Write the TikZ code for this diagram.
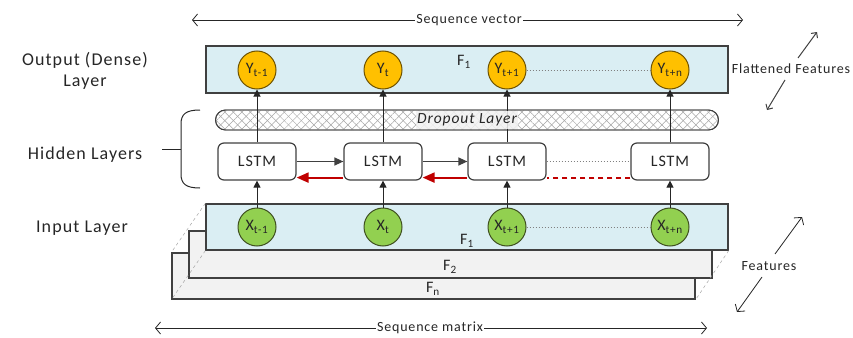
\documentclass[tikz,border=0pt]{standalone}
\usepackage{fontspec}
\setmainfont{Carlito}[LetterSpace=6]
\usetikzlibrary{arrows.meta,patterns.meta,calc}
\definecolor{LstmInk}{HTML}{262626}
\definecolor{LstmEdge}{HTML}{404040}
\definecolor{LstmBand}{HTML}{DAEEF3}
\definecolor{LstmSheet}{HTML}{F2F2F2}
\definecolor{LstmGold}{HTML}{FFC000}
\definecolor{LstmGoldEdge}{HTML}{6E5200}
\definecolor{LstmLime}{HTML}{92D050}
\definecolor{LstmLimeEdge}{HTML}{3F5020}
\definecolor{LstmRed}{HTML}{C00000}
\definecolor{LstmHatch}{HTML}{A6A6A6}
\tikzset{
  lstm label/.style={font=\fontsize{18}{21}\selectfont, text=LstmInk, align=center},
  lstm axis/.style={font=\fontsize{14}{16}\selectfont, text=LstmInk},
  lstm feat/.style={font=\fontsize{16}{18}\selectfont, text=LstmInk, inner sep=0pt},
  lstm band/.style={draw=LstmEdge, fill=LstmBand, line width=1.3pt, inner sep=0pt},
  lstm sheet/.style={draw=LstmEdge, fill=LstmSheet, line width=1.3pt, inner sep=0pt},
  lstm out/.style={circle, draw=LstmGoldEdge, fill=LstmGold, line width=1pt, minimum size=38pt, inner sep=0pt, font=\fontsize{16}{18}\selectfont, text=LstmInk},
  lstm in/.style={circle, draw=LstmLimeEdge, fill=LstmLime, line width=1pt, minimum size=38pt, inner sep=0pt, font=\fontsize{16}{18}\selectfont, text=LstmInk},
  lstm cell/.style={draw=LstmEdge, fill=white, line width=1.2pt, rounded corners=6pt, minimum width=78pt, minimum height=37pt, font=\fontsize{16}{18}\selectfont, text=LstmInk},
  lstm drop/.style={draw=LstmEdge, fill=white, line width=.9pt, rounded corners=10pt, minimum width=503pt, minimum height=20pt, inner sep=0pt,
    postaction={pattern={Lines[angle=45,distance=6pt,line width=.5pt]}, pattern color=LstmHatch},
    postaction={pattern={Lines[angle=-45,distance=6pt,line width=.5pt]}, pattern color=LstmHatch},
    postaction={draw=LstmEdge, line width=.9pt}},
  lstm up/.style={draw=LstmInk, line width=1pt, -{Triangle[length=7pt,width=7pt]}},
  lstm fwd/.style={draw=LstmEdge, line width=1.3pt, -{Triangle[length=9pt,width=8pt]}},
  lstm back/.style={draw=LstmRed, line width=2pt, -{Triangle[length=12pt,width=10pt]}},
  lstm gap/.style={draw=gray, line width=1pt, dotted},
  lstm back gap/.style={draw=LstmRed, line width=2pt, dash pattern=on 5pt off 4pt},
  lstm fold/.style={draw=gray!70, line width=.5pt, dashed},
  lstm span/.style={draw=LstmInk, line width=.8pt, -{Straight Barb[length=5pt,width=12pt]}},
  lstm tick/.style={draw=LstmEdge, line width=1pt, -{Straight Barb[length=4pt,width=8pt]}},
}
\begin{document}
\begin{tikzpicture}[x=1pt,y=-1pt]
  \useasboundingbox (0,0) rectangle (853,337);

  % Layer names on the left
  \node[lstm label] (out name) at (85,71) {Output (Dense)\\Layer};
  \node[lstm label] (hid name) at (85,155) {Hidden Layers};
  \node[lstm label] (in name) at (82,228) {Input Layer};
  \draw[draw=LstmInk, line width=1pt] (200,110) .. controls (186,110) and (181,114) .. (181,124)
    -- (181,174) .. controls (181,184) and (186,188) .. (200,188);
  \draw[draw=LstmInk, line width=1pt] (162,149) -- (181,149);

  % Sequence vector across the top
  \coordinate (vec l) at (192,20);
  \coordinate (vec r) at (743,20);
  \node[lstm axis, fill=white, inner sep=1pt] (vec text) at (469,20) {Sequence vector};
  \draw[lstm span] (vec text) -- (vec l);
  \draw[lstm span] (vec text) -- (vec r);

  % Output band with the dense outputs
  \node[lstm band, minimum width=522pt, minimum height=47pt] (outband) at (467,69.5) {};
  \node[lstm feat] (f out) at (464,62) {F\textsubscript{1}};
  \node[lstm out] (ya) at (257,70) {Y\textsubscript{t-1}};
  \node[lstm out] (yb) at (383,70) {Y\textsubscript{t}};
  \node[lstm out] (yc) at (507,70) {Y\textsubscript{t+1}};
  \node[lstm out] (yd) at (670,70) {Y\textsubscript{t+n}};
  \draw[lstm gap] (yc) -- (yd);

  \node[lstm axis] (flat) at (791,69) {Flattened Features};
  \coordinate (flat a) at (798,58);
  \coordinate (flat b) at (817,32);
  \coordinate (flat c) at (785,80);
  \coordinate (flat d) at (767,110);
  \draw[lstm tick] (flat a) -- (flat b);
  \draw[lstm tick] (flat c) -- (flat d);

  % Input stack: F1 in front, F2 and Fn behind
  \node[lstm sheet, minimum width=523pt, minimum height=46pt] (bandn) at (433.5,276) {};
  \node[lstm sheet, minimum width=523pt, minimum height=47pt] (band2) at (450.5,254.5) {};
  \node[lstm band, minimum width=522pt, minimum height=46pt] (inband) at (467,227) {};
  \draw[lstm fold] (inband.north west) -- (bandn.north west);
  \draw[lstm fold] (inband.south west) -- (bandn.south west);
  \draw[lstm fold] (inband.south east) -- (bandn.south east);
  \node[lstm feat] (f in) at (467,241) {F\textsubscript{1}};
  \node[lstm feat] (f two) at (450,267) {F\textsubscript{2}};
  \node[lstm feat] (f last) at (433,289) {F\textsubscript{n}};
  \node[lstm in] (xa) at (257,227) {X\textsubscript{t-1}};
  \node[lstm in] (xb) at (383,227) {X\textsubscript{t}};
  \node[lstm in] (xc) at (507,227) {X\textsubscript{t+1}};
  \node[lstm in] (xd) at (670,227) {X\textsubscript{t+n}};
  \draw[lstm gap] (xc) -- (xd);

  \node[lstm axis] (feat) at (769,266) {Features};
  \coordinate (feat a) at (775,254);
  \coordinate (feat b) at (802,217);
  \coordinate (feat c) at (762,277);
  \coordinate (feat d) at (737,312);
  \draw[lstm span] (feat a) -- (feat b);
  \draw[lstm span] (feat c) -- (feat d);

  % Sequence matrix along the bottom
  \coordinate (mat l) at (155,328);
  \coordinate (mat r) at (707,328);
  \node[lstm axis, fill=white, inner sep=1pt] (mat text) at (430,328) {Sequence matrix};
  \draw[lstm span] (mat text) -- (mat l);
  \draw[lstm span] (mat text) -- (mat r);

  % Hidden layers: dropout strip and the LSTM chain
  \node[lstm drop] (drop) at (467,120) {};
  \node[lstm cell] (lstma) at (257,161.5) {LSTM};
  \node[lstm cell] (lstmb) at (383,161.5) {LSTM};
  \node[lstm cell] (lstmc) at (507,161.5) {LSTM};
  \node[lstm cell] (lstmd) at (670,161.5) {LSTM};
  \draw[lstm fwd] (lstma) -- (lstmb);
  \draw[lstm fwd] (lstmb) -- (lstmc);
  \draw[lstm gap] (lstmc) -- (lstmd);
  \draw[lstm back] ([yshift=3pt]lstmb.south west) -- ([yshift=3pt]lstma.south east);
  \draw[lstm back] ([yshift=3pt]lstmc.south west) -- ([yshift=3pt]lstmb.south east);
  \draw[lstm back gap] ([yshift=3pt]lstmd.south west) -- ([yshift=3pt]lstmc.south east);

  \foreach \k in {a,b,c,d} {
    \draw[lstm up] (x\k) -- (lstm\k);
    \draw[lstm up] (lstm\k) -- (y\k);
  }
  \node[fill=LstmSheet, fill opacity=.85, text opacity=1, inner sep=1.5pt, minimum height=18pt,
    font=\itshape\fontsize{15.5}{17}\selectfont, text=LstmInk] (drop text) at (467,120) {Dropout Layer};
\end{tikzpicture}
\end{document}
